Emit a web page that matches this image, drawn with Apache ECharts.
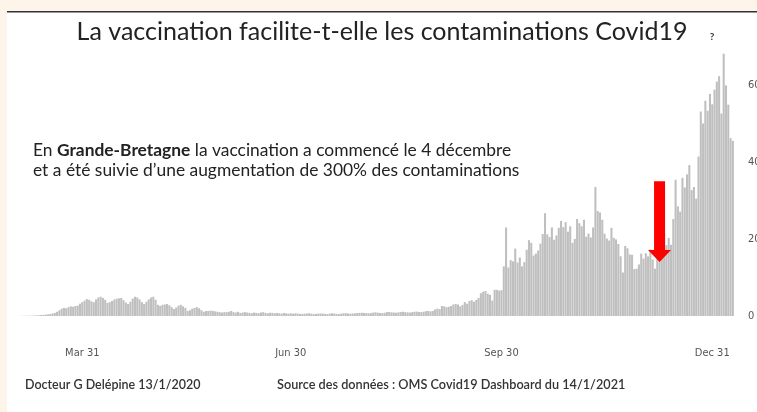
<!DOCTYPE html>
<html>
<head>
<meta charset="utf-8">
<title>La vaccination facilite-t-elle les contaminations Covid19 ?</title>
<script src="https://cdn.jsdelivr.net/npm/echarts/dist/echarts.min.js"></script>
<style>
  html, body { margin: 0; padding: 0; background: #fff; }
  #main { width: 757px; height: 412px; }
</style>
</head>
<body>
<div id="main"></div>
<script>
// cas quotidiens Grande-Bretagne, du 3 mars 2020 au 9 janvier 2021
var startDate = [2020, 2, 3];
var casMars = [20, 30, 40, 50, 60, 80, 100, 120, 150, 200, 250, 300, 350, 420, 500,
  650, 800, 1100, 1500, 1900, 2100, 2000, 2300, 2500, 2400, 2600, 2700, 3200, 3600];
var casAvril = [4000, 4400, 4200, 3800, 3600, 4300, 4800, 5000, 4700, 4200,
  3400, 3600, 3900, 4300, 4500, 4600, 4700, 4100, 3500, 3100,
  3700, 4500, 5000, 4800, 4300, 3600, 3100, 3700, 4300, 4800];
var casMai = [5000, 4200, 2900, 2600, 2900, 3000, 3100, 2800, 2300, 1800,
  2200, 2700, 2900, 2500, 2100, 1300, 1500, 1900, 2100, 2300,
  2000, 1500, 1100, 1300, 1300, 1400, 1300, 1200, 1100, 1000, 900];
var casJuin = [1000, 1000, 1100, 1300, 1000, 900, 1100, 800, 900, 1000,
  900, 800, 700, 900, 800, 700, 900, 1000, 800, 700,
  850, 800, 700, 800, 700, 600, 800, 700, 600, 700];
var casJuillet = [600, 700, 650, 550, 500, 600, 650, 700, 600, 500,
  550, 600, 650, 600, 550, 500, 600, 700, 650, 550,
  500, 600, 700, 750, 650, 600, 650, 700, 750, 800, 850];
var casAout = [800, 750, 700, 750, 900, 950, 850, 800, 750, 850,
  1000, 1050, 950, 900, 850, 950, 1050, 1100, 1000, 950,
  900, 1000, 1100, 1150, 1050, 1000, 1100, 1250, 1300, 1200, 1300];
var casSept = [1700, 1900, 1800, 2600, 2500, 2300, 2400, 2600, 3000, 3100,
  3000, 2500, 2900, 3600, 3200, 3900, 4100, 3700, 4200, 4700,
  5900, 6300, 6500, 5800, 5500, 4000, 6800, 6800, 6600, 6700];
var casOct = [12900, 23000, 12600, 14500, 14200, 17500, 13900, 15200, 12900, 14000,
  17200, 19700, 19000, 15700, 16200, 17000, 18800, 21300, 26700, 21200,
  20500, 23000, 19800, 20900, 22900, 24700, 23100, 24400, 21900, 23300, 19000];
var casNov = [20000, 25200, 24100, 23300, 25000, 20600, 21400, 20400, 23000, 33500,
  27300, 26900, 25000, 21400, 20100, 19600, 22900, 20300, 19900, 18700,
  15500, 11300, 18200, 17600, 16000, 15900, 12200, 12300, 13400, 16200];
var casDec = [14900, 16300, 15500, 17300, 14700, 12300, 16600, 21000, 21700, 21500,
  18400, 20300, 18500, 25200, 35400, 28500, 27100, 35900, 33400, 36800,
  39200, 32700, 33500, 30500, 41400, 53100, 50000, 55900, 53300, 57700, 55000];
var casJanv = [58800, 60900, 62300, 52600, 68100, 59900, 54900, 46200, 45500];

var tickLabels = ['Mar 31', 'Jun 30', 'Sep 30', 'Dec 31'];
var yTicks = { min: 0, max: 80000, interval: 20000 };

// flèche rouge : début de la vaccination
var arrowDate = 'Dec 8';
var arrowFrom = 35000;
var arrowTo = 14000;

var cas = [].concat(casMars, casAvril, casMai, casJuin, casJuillet, casAout,
  casSept, casOct, casNov, casDec, casJanv);

var mois = ['Jan', 'Feb', 'Mar', 'Apr', 'May', 'Jun', 'Jul', 'Aug', 'Sep', 'Oct', 'Nov', 'Dec'];
var jours = [];
var d = new Date(startDate[0], startDate[1], startDate[2]);
for (var i = 0; i < cas.length; i++) {
  jours.push(mois[d.getMonth()] + ' ' + d.getDate());
  d.setDate(d.getDate() + 1);
}

var police = 'Lato, "Noto Sans", sans-serif';
var policeAxe = '"Liberation Sans Narrow", "DejaVu Sans Condensed", sans-serif';

var myChart = echarts.init(document.getElementById('main'));

var option = {
  backgroundColor: '#ffffff',
  animation: false,
  grid: { left: 17, right: 23, top: 8, bottom: 96, outerBoundsMode: 'none', containLabel: false },
  xAxis: {
    type: 'category',
    data: jours,
    axisLine: { show: false },
    axisTick: { show: false },
    axisLabel: {
      interval: function (index, value) { return tickLabels.indexOf(value) >= 0; },
      margin: 32,
      color: '#555',
      fontSize: 11,
      fontFamily: policeAxe
    }
  },
  yAxis: {
    type: 'value',
    position: 'right',
    min: yTicks.min,
    max: yTicks.max,
    interval: yTicks.interval,
    axisLine: { show: false },
    axisTick: { show: false },
    splitLine: { show: false },
    axisLabel: {
      showMaxLabel: false,
      margin: 14,
      color: '#555',
      fontSize: 11,
      fontFamily: policeAxe
    }
  },
  series: [{
    name: 'Cas',
    type: 'bar',
    data: cas,
    barCategoryGap: '10%',
    itemStyle: { color: '#bfbfbf' }
  }],
  graphic: [
    { id: 'bandeHaut', type: 'rect', z: 100, shape: { x: 0, y: 0, width: 757, height: 11 }, style: { fill: '#fdf5e9' } },
    { id: 'bandeGauche', type: 'rect', z: 100, shape: { x: 0, y: 0, width: 7, height: 412 }, style: { fill: '#fdf5e9' } },
    { id: 'trait', type: 'rect', z: 101, shape: { x: 7, y: 11, width: 750, height: 1.5 }, style: { fill: '#333' } },
    {
      id: 'titre', type: 'text', z: 100, x: 382, y: 32,
      style: {
        text: 'La vaccination facilite-t-elle les contaminations Covid19',
        font: '25px ' + police, fill: '#222',
        textAlign: 'center', textVerticalAlign: 'middle'
      }
    },
    {
      id: 'pointInterro', type: 'text', z: 100, x: 712, y: 37,
      style: {
        text: '?', font: 'bold 10px ' + police, fill: '#333',
        textAlign: 'center', textVerticalAlign: 'middle'
      }
    },
    {
      id: 'commentaire', type: 'text', z: 100, x: 33, y: 140,
      style: {
        text: '{n|En }{b|Grande-Bretagne}{n| la vaccination a commencé le 4 décembre}\n{n|et a été suivie d’une augmentation de 300% des contaminations}',
        rich: {
          n: { font: '17.4px ' + police, fill: '#222', lineHeight: 20 },
          b: { font: 'bold 17.4px ' + police, fill: '#222', lineHeight: 20 }
        }
      }
    },
    {
      id: 'auteur', type: 'text', z: 100, x: 25, y: 385,
      style: {
        text: 'Docteur G Delépine 13/1/2020', font: '600 12.5px ' + police,
        fill: '#333', textVerticalAlign: 'middle'
      }
    },
    {
      id: 'source', type: 'text', z: 100, x: 277, y: 385,
      style: {
        text: 'Source des données : OMS Covid19 Dashboard du 14/1/2021', font: '600 12.7px ' + police,
        fill: '#333', textVerticalAlign: 'middle'
      }
    }
  ]
};

myChart.setOption(option);

// flèche placée à partir des axes du graphique
var haut = myChart.convertToPixel({ xAxisIndex: 0, yAxisIndex: 0 }, [arrowDate, arrowFrom]);
var pointe = myChart.convertToPixel({ xAxisIndex: 0, yAxisIndex: 0 }, [arrowDate, arrowTo]);
var cx = haut[0];
myChart.setOption({
  graphic: [{
    id: 'fleche', type: 'polygon', z: 110,
    shape: {
      points: [
        [cx - 5.5, haut[1]], [cx + 5.5, haut[1]], [cx + 5.5, pointe[1] - 12],
        [cx + 11.5, pointe[1] - 12], [cx, pointe[1]], [cx - 11.5, pointe[1] - 12],
        [cx - 5.5, pointe[1] - 12]
      ]
    },
    style: { fill: '#ff0000' }
  }]
});
</script>
</body>
</html>
